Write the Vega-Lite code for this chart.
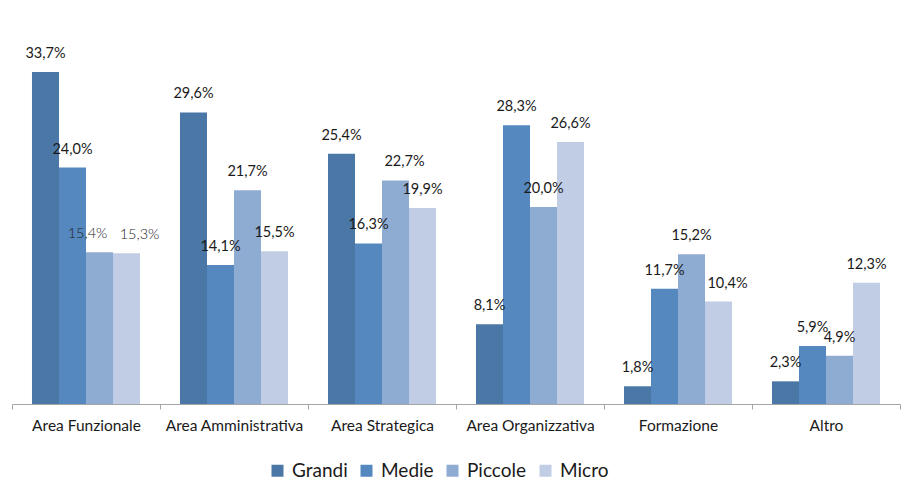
{
  "$schema": "https://vega.github.io/schema/vega-lite/v6.json",
  "width": 888,
  "height": 394,
  "autosize": "none",
  "padding": {"left": 12, "top": 10, "right": 8, "bottom": 79},
  "background": "white",
  "config": {
    "locale": {"number": {"decimal": ",", "thousands": ".", "grouping": [3], "currency": ["", " €"]}},
    "view": {"stroke": null},
    "font": "Lato"
  },
  "data": {
    "values": [
      {"area": "Area Funzionale", "size": "Grandi", "value": 0.337},
      {"area": "Area Funzionale", "size": "Medie", "value": 0.240},
      {"area": "Area Funzionale", "size": "Piccole", "value": 0.154},
      {"area": "Area Funzionale", "size": "Micro", "value": 0.153},
      {"area": "Area Amministrativa", "size": "Grandi", "value": 0.296},
      {"area": "Area Amministrativa", "size": "Medie", "value": 0.141},
      {"area": "Area Amministrativa", "size": "Piccole", "value": 0.217},
      {"area": "Area Amministrativa", "size": "Micro", "value": 0.155},
      {"area": "Area Strategica", "size": "Grandi", "value": 0.254},
      {"area": "Area Strategica", "size": "Medie", "value": 0.163},
      {"area": "Area Strategica", "size": "Piccole", "value": 0.227},
      {"area": "Area Strategica", "size": "Micro", "value": 0.199},
      {"area": "Area Organizzativa", "size": "Grandi", "value": 0.081},
      {"area": "Area Organizzativa", "size": "Medie", "value": 0.283},
      {"area": "Area Organizzativa", "size": "Piccole", "value": 0.200},
      {"area": "Area Organizzativa", "size": "Micro", "value": 0.266},
      {"area": "Formazione", "size": "Grandi", "value": 0.018},
      {"area": "Formazione", "size": "Medie", "value": 0.117},
      {"area": "Formazione", "size": "Piccole", "value": 0.152},
      {"area": "Formazione", "size": "Micro", "value": 0.104},
      {"area": "Altro", "size": "Grandi", "value": 0.023},
      {"area": "Altro", "size": "Medie", "value": 0.059},
      {"area": "Altro", "size": "Piccole", "value": 0.049},
      {"area": "Altro", "size": "Micro", "value": 0.123}
    ]
  },
  "encoding": {
    "x": {
      "field": "area",
      "type": "nominal",
      "sort": ["Area Funzionale", "Area Amministrativa", "Area Strategica", "Area Organizzativa", "Formazione", "Altro"],
      "scale": {"paddingInner": 0, "paddingOuter": 0},
      "axis": {
        "title": null,
        "labelAngle": 0,
        "labelFontSize": 15.5,
        "labelColor": "#1a1a1a",
        "labelPadding": 9,
        "domainColor": "#a6a6a6",
        "tickColor": "#a6a6a6",
        "tickBand": "extent",
        "tickSize": 5
      }
    },
    "xOffset": {
      "field": "size",
      "type": "nominal",
      "sort": ["Grandi", "Medie", "Piccole", "Micro"],
      "scale": {"paddingInner": 0, "paddingOuter": 0.74}
    },
    "y": {
      "field": "value",
      "type": "quantitative",
      "scale": {"domain": [0, 0.4]},
      "axis": null
    }
  },
  "layer": [
    {
      "mark": {"type": "bar"},
      "encoding": {
        "color": {
          "field": "size",
          "type": "nominal",
          "sort": ["Grandi", "Medie", "Piccole", "Micro"],
          "scale": {"domain": ["Grandi", "Medie", "Piccole", "Micro"], "range": ["#4a77a5", "#5588bf", "#8eabd2", "#c1cde4"]},
          "legend": {
            "title": null,
            "orient": "none",
            "legendX": 256,
            "legendY": 451,
            "direction": "horizontal",
            "symbolType": "square",
            "symbolSize": 144,
            "symbolStrokeWidth": 0,
            "labelFontSize": 19,
            "labelColor": "#1a1a1a",
            "labelOffset": 5,
            "columnPadding": 9
          }
        }
      }
    },
    {
      "transform": [{"filter": "!((datum.area == 'Area Funzionale' && (datum.size == 'Piccole' || datum.size == 'Micro')) || (datum.area == 'Area Strategica' && datum.size == 'Piccole') || (datum.area == 'Formazione' && datum.size == 'Micro'))"}],
      "mark": {"type": "text", "baseline": "alphabetic", "dy": -14, "fontSize": 14.5, "color": "#1a1a1a"},
      "encoding": {
        "text": {"field": "value", "type": "quantitative", "format": ".1%"}
      }
    },
    {
      "transform": [{"filter": "datum.area == 'Area Funzionale' && datum.size == 'Piccole'"}],
      "mark": {"type": "text", "baseline": "alphabetic", "dy": -14, "dx": -12, "fontSize": 14.5, "fontWeight": 300, "color": "#222222"},
      "encoding": {
        "text": {"field": "value", "type": "quantitative", "format": ".1%"}
      }
    },
    {
      "transform": [{"filter": "datum.area == 'Area Funzionale' && datum.size == 'Micro'"}],
      "mark": {"type": "text", "baseline": "alphabetic", "dy": -14, "dx": 13, "fontSize": 14.5, "fontWeight": 300, "color": "#222222"},
      "encoding": {
        "text": {"field": "value", "type": "quantitative", "format": ".1%"}
      }
    },
    {
      "transform": [{"filter": "(datum.area == 'Area Strategica' && datum.size == 'Piccole') || (datum.area == 'Formazione' && datum.size == 'Micro')"}],
      "mark": {"type": "text", "baseline": "alphabetic", "dy": -14, "dx": 9, "fontSize": 14.5, "color": "#1a1a1a"},
      "encoding": {
        "text": {"field": "value", "type": "quantitative", "format": ".1%"}
      }
    }
  ]
}
